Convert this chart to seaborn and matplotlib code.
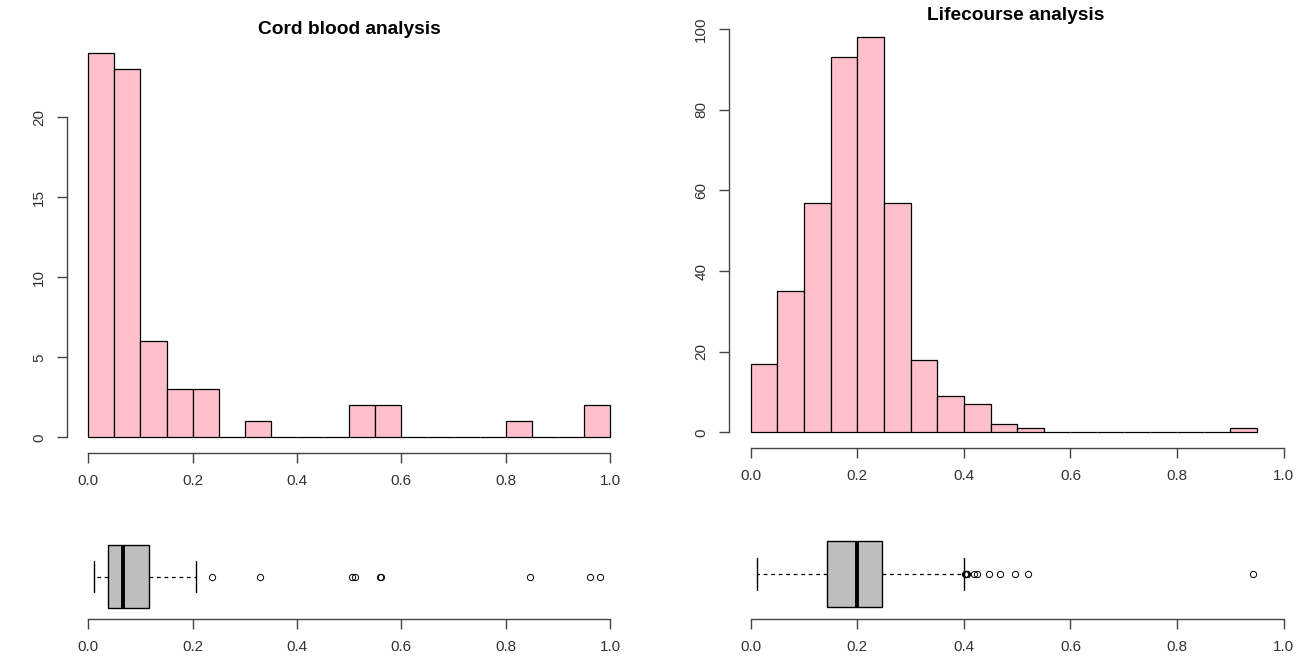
import numpy as np
import matplotlib
matplotlib.use("Agg")
import matplotlib.pyplot as plt
import seaborn as sns

# Histogram counts (bin width 0.05)
cord_edges = [round(0.05 * i, 2) for i in range(21)]
cord_counts = [24, 23, 6, 3, 3, 0, 1, 0, 0, 0, 2, 2, 0, 0, 0, 0, 1, 0, 0, 2]

life_edges = [round(0.05 * i, 2) for i in range(20)]
life_counts = [17, 35, 57, 93, 98, 57, 18, 9, 7, 2, 1, 0, 0, 0, 0, 0, 0, 0, 1]

# Boxplot summaries
cord_box = dict(med=0.067, q1=0.038, q3=0.117, whislo=0.011, whishi=0.206,
                fliers=[0.238, 0.329, 0.506, 0.511, 0.560, 0.562, 0.847, 0.962, 0.980])
life_box = dict(med=0.199, q1=0.144, q3=0.246, whislo=0.011, whishi=0.401,
                fliers=[0.402, 0.403, 0.404, 0.405, 0.419, 0.424, 0.447, 0.467,
                        0.495, 0.520, 0.942])

x_ticks = [0.0, 0.2, 0.4, 0.6, 0.8, 1.0]
x_ticklabels = ["0.0", "0.2", "0.4", "0.6", "0.8", "1.0"]
cord_yticks = [0, 5, 10, 15, 20]
life_yticks = [0, 20, 40, 60, 80, 100]

sns.set_style("white")
plt.rcParams["font.family"] = ["Liberation Sans", "DejaVu Sans"]

fig = plt.figure(figsize=(13.03, 6.64), dpi=100)
W, H = 1303, 664


def add_ax(x0, y0, x1, y1):
    # pixel box (top-left origin) -> figure fraction
    return fig.add_axes([x0 / W, 1 - y1 / H, (x1 - x0) / W, (y1 - y0) / H])


axis_col = "#444444"
text_col = "#333333"


def style_x(ax):
    ax.set_xlim(-0.04, 1.04)
    ax.set_xticks(x_ticks)
    ax.set_xticklabels(x_ticklabels)
    ax.spines["bottom"].set_bounds(0, 1)
    ax.spines["bottom"].set_color(axis_col)
    ax.spines["bottom"].set_linewidth(1.0)
    ax.spines["top"].set_visible(False)
    ax.spines["right"].set_visible(False)
    ax.tick_params(axis="x", direction="out", length=7.2, width=1.0, color=axis_col,
                   pad=8, labelsize=11, labelcolor=text_col, bottom=True)
    ax.set_xlabel("")


def draw_hist(ax, edges, counts, yticks, ymax):
    mids = [(edges[i] + edges[i + 1]) / 2 for i in range(len(counts))]
    sns.histplot(x=mids, weights=counts, bins=edges, ax=ax, color="#FFC0CB",
                 edgecolor="black", linewidth=0.9, alpha=1)
    style_x(ax)
    ax.set_ylim(-0.04 * ymax, 1.04 * ymax)
    ax.set_yticks(yticks)
    ax.spines["left"].set_bounds(yticks[0], yticks[-1])
    ax.spines["left"].set_color(axis_col)
    ax.spines["left"].set_linewidth(1.0)
    ax.tick_params(axis="y", direction="out", length=7.2, width=1.0, color=axis_col,
                   pad=8, labelsize=11, labelcolor=text_col, left=True, labelrotation=90)
    for lbl in ax.get_yticklabels():
        lbl.set_va("center")
    ax.set_ylabel("")


def draw_box(ax, stats):
    ax.bxp([stats], vert=False, widths=0.8, capwidths=0.4, patch_artist=True,
           boxprops=dict(facecolor="#BEBEBE", edgecolor="black", linewidth=1.0),
           medianprops=dict(color="black", linewidth=2.8),
           whiskerprops=dict(color="black", linewidth=0.9, linestyle=(0, (3, 3))),
           capprops=dict(color="black", linewidth=1.0),
           flierprops=dict(marker="o", markersize=4.5, markerfacecolor="none",
                           markeredgecolor="black", markeredgewidth=0.7))
    ax.set_ylim(0.46, 1.54)
    ax.set_yticks([])
    ax.spines["left"].set_visible(False)
    style_x(ax)


ax1 = add_ax(67.4, 37.6, 630.9, 452.8)
draw_hist(ax1, cord_edges, cord_counts, cord_yticks, max(cord_counts))

ax2 = add_ax(729.4, 21.3, 1305.0, 448.3)
draw_hist(ax2, life_edges, life_counts, life_yticks, max(life_counts))

ax3 = add_ax(67.4, 534.0, 630.9, 619.3)
draw_box(ax3, cord_box)

ax4 = add_ax(729.4, 529.5, 1305.0, 618.5)
draw_box(ax4, life_box)

fig.text(349 / W, 1 - 30 / H, "Cord blood analysis", ha="center", va="center",
         fontsize=13.8, fontweight="bold", color="black")
fig.text(1016 / W, 1 - 16 / H, "Lifecourse analysis", ha="center", va="center",
         fontsize=13.8, fontweight="bold", color="black")

fig.savefig("out.png", dpi=100)
